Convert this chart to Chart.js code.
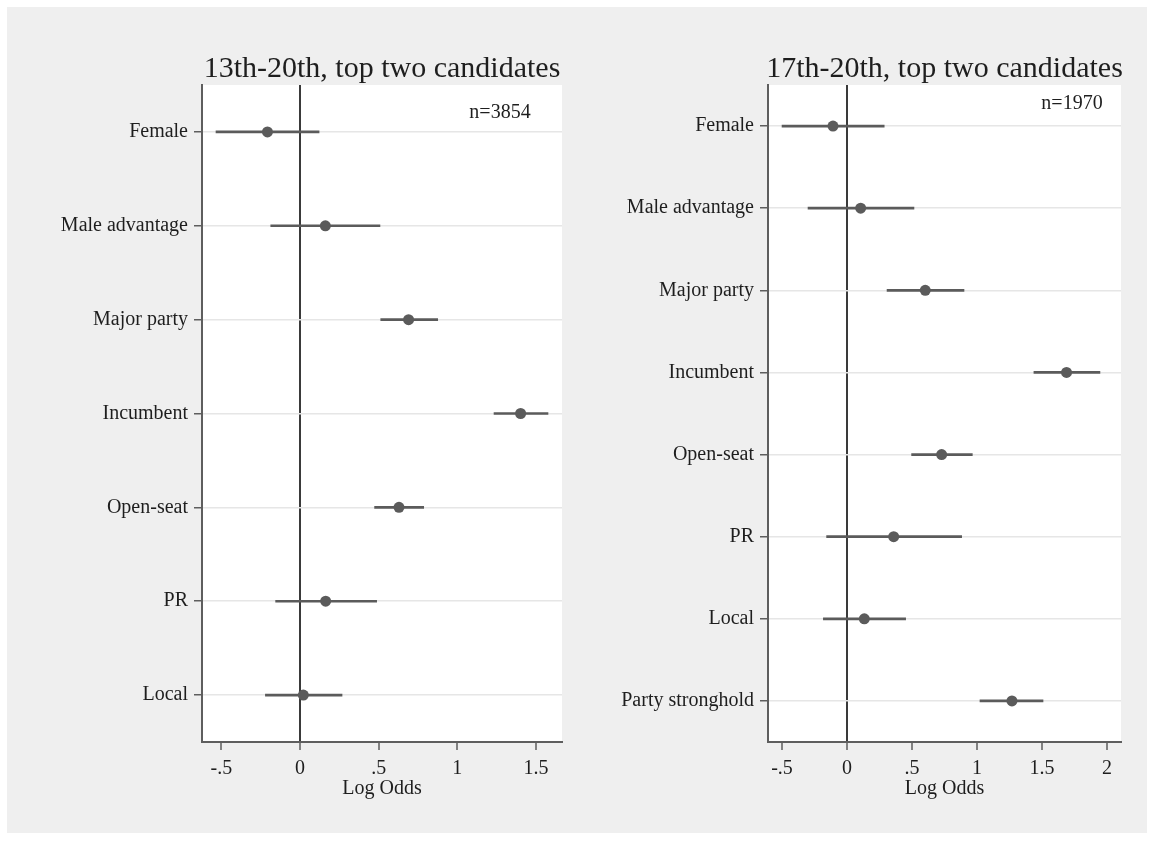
<!DOCTYPE html>
<html>
<head>
<meta charset="utf-8">
<script src="https://cdn.jsdelivr.net/npm/chart.js@4.4.1/dist/chart.umd.min.js"></script>
<style>
  html, body { margin: 0; padding: 0; background: #ffffff; }
  #frame { position: absolute; left: 7px; top: 7px; width: 1140px; height: 826px; background: #efefef; }
  canvas { position: absolute; left: 0; top: 0; }
</style>
</head>
<body>
<div id="frame"></div>
<canvas id="leftPanel" width="1154" height="841"></canvas>
<canvas id="rightPanel" width="1154" height="841"></canvas>
<script>
// 13th-20th elections, top two candidates
const leftCategories = ['Female', 'Male advantage', 'Major party', 'Incumbent', 'Open-seat', 'PR', 'Local'];
const leftEstimates  = [-0.207, 0.161, 0.690, 1.402, 0.629, 0.163, 0.021];
const leftLower      = [-0.534, -0.186, 0.513, 1.233, 0.474, -0.155, -0.220];
const leftUpper      = [0.121, 0.508, 0.875, 1.576, 0.786, 0.487, 0.267];
const leftTickValues = [-0.5, 0, 0.5, 1, 1.5];
const leftTickLabels = ['-.5', '0', '.5', '1', '1.5'];

// 17th-20th elections, top two candidates
const rightCategories = ['Female', 'Male advantage', 'Major party', 'Incumbent', 'Open-seat', 'PR', 'Local', 'Party stronghold'];
const rightEstimates  = [-0.108, 0.105, 0.602, 1.689, 0.728, 0.359, 0.133, 1.269];
const rightLower      = [-0.500, -0.300, 0.308, 1.438, 0.497, -0.157, -0.182, 1.023];
const rightUpper      = [0.286, 0.515, 0.900, 1.946, 0.964, 0.882, 0.451, 1.508];
const rightTickValues = [-0.5, 0, 0.5, 1, 1.5, 2];
const rightTickLabels = ['-.5', '0', '.5', '1', '1.5', '2'];

const SERIF = "'Liberation Serif', 'Times New Roman', serif";
const INK = '#1e1e1e';
const MARK = '#5b5b5b';
const AXIS = '#5e5e5e';

Chart.defaults.font.family = SERIF;
Chart.defaults.color = INK;

// White plot region, panel title and sample-size note
const panelDecor = {
  id: 'panelDecor',
  beforeDraw(chart, args, opts) {
    const { ctx, chartArea: a } = chart;
    ctx.save();
    ctx.fillStyle = '#ffffff';
    ctx.fillRect(a.left, a.top, a.right - a.left, a.bottom - a.top);
    ctx.restore();
  },
  afterDraw(chart, args, opts) {
    const { ctx, chartArea: a } = chart;
    ctx.save();
    ctx.fillStyle = INK;
    ctx.font = '30px ' + SERIF;
    ctx.textAlign = 'center';
    ctx.textBaseline = 'alphabetic';
    ctx.fillText(opts.title, (a.left + a.right) / 2, a.top - 8.5);
    ctx.font = '20px ' + SERIF;
    ctx.textBaseline = 'middle';
    ctx.fillText(opts.note, a.right - opts.noteRight, a.top + opts.noteTop);
    ctx.restore();
  }
};

function makePanel(canvasId, cfg) {
  return new Chart(document.getElementById(canvasId), {
    type: 'bar',
    data: {
      labels: cfg.categories,
      datasets: [
        {
          type: 'line',
          indexAxis: 'y',
          data: cfg.estimates,
          showLine: false,
          pointRadius: 5.5,
          pointHoverRadius: 5.5,
          pointBackgroundColor: MARK,
          pointBorderWidth: 0,
          order: 0
        },
        {
          type: 'bar',
          indexAxis: 'y',
          data: cfg.lower.map((lo, i) => [lo, cfg.upper[i]]),
          backgroundColor: MARK,
          borderWidth: 0,
          barThickness: 2,
          grouped: false,
          order: 1
        }
      ]
    },
    options: {
      indexAxis: 'y',
      responsive: false,
      animation: false,
      events: [],
      layout: { padding: cfg.padding },
      scales: {
        x: {
          type: 'linear',
          position: 'bottom',
          min: cfg.xMin,
          max: cfg.xMax,
          afterBuildTicks: s => { s.ticks = cfg.tickValues.map(v => ({ value: v })); },
          afterFit: s => { s.height = 59; },
          ticks: {
            callback: (v, i) => cfg.tickLabels[i],
            font: { size: 20 },
            color: INK,
            padding: 7,
            maxRotation: 0,
            autoSkip: false
          },
          grid: {
            color: c => (c.tick && c.tick.value === 0) ? '#3a3a3a' : 'rgba(0,0,0,0)',
            lineWidth: 2,
            tickColor: AXIS,
            tickLength: 8,
            tickWidth: 1.5
          },
          border: { color: AXIS, width: 2 },
          title: { display: true, text: 'Log Odds', font: { size: 20 }, color: INK, padding: 0 }
        },
        y: {
          type: 'category',
          labels: cfg.categories,
          offset: true,
          afterFit: s => { s.width = cfg.yWidth; },
          ticks: { font: { size: 20 }, color: INK, padding: 6, autoSkip: false },
          grid: {
            offset: false,
            color: '#e6e6e6',
            lineWidth: 1.5,
            tickColor: AXIS,
            tickLength: 8,
            tickWidth: 1.5
          },
          border: { color: AXIS, width: 2 }
        }
      },
      plugins: {
        legend: { display: false },
        tooltip: { enabled: false },
        panelDecor: { title: cfg.title, note: cfg.note, noteRight: cfg.noteRight, noteTop: cfg.noteTop }
      }
    },
    plugins: [panelDecor]
  });
}

makePanel('leftPanel', {
  title: '13th-20th, top two candidates',
  note: 'n=3854',
  noteRight: 62, noteTop: 28,
  categories: leftCategories,
  estimates: leftEstimates,
  lower: leftLower,
  upper: leftUpper,
  tickValues: leftTickValues,
  tickLabels: leftTickLabels,
  xMin: -0.623, xMax: 1.665,
  yWidth: 202,
  padding: { left: 0, top: 85, right: 592, bottom: 40 }
});

makePanel('rightPanel', {
  title: '17th-20th, top two candidates',
  note: 'n=1970',
  noteRight: 49, noteTop: 19,
  categories: rightCategories,
  estimates: rightEstimates,
  lower: rightLower,
  upper: rightUpper,
  tickValues: rightTickValues,
  tickLabels: rightTickLabels,
  xMin: -0.608, xMax: 2.108,
  yWidth: 768,
  padding: { left: 0, top: 85, right: 33, bottom: 40 }
});
</script>
</body>
</html>
